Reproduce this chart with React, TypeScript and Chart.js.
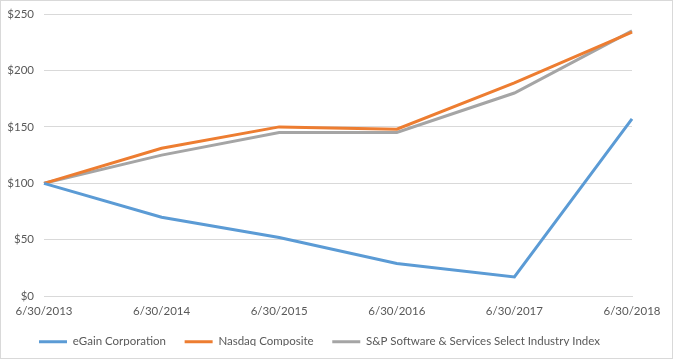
import React, { useEffect, useRef } from "react";
import { Chart, registerables } from "chart.js";

Chart.register(...registerables);

const categories = ["6/30/2013", "6/30/2014", "6/30/2015", "6/30/2016", "6/30/2017", "6/30/2018"];
const eGain = [100, 70, 52, 29, 17, 157];
const nasdaq = [100, 131, 150, 148, 189, 234];
const spSoftware = [100, 125, 145, 145, 180, 235];
const seriesNames = ["eGain Corporation", "Nasdaq Composite", "S&P Software & Services Select Industry Index"];
const yTicks = [0, 50, 100, 150, 200, 250];

const FONT = "Lato";
const TEXT = "#595959";

export default function App() {
  const ref = useRef<HTMLCanvasElement>(null);
  useEffect(() => {
    document.body.style.margin = "0";
    const ctx = ref.current!;
    const mk = (label: string, data: number[], color: string) => ({
      label,
      data,
      borderColor: color,
      backgroundColor: color,
      borderWidth: 3,
      pointRadius: 0,
      tension: 0,
      fill: false,
    });
    const chart = new Chart(ctx, {
      type: "line",
      data: {
        labels: categories,
        datasets: [
          mk(seriesNames[0], eGain, "#5B9BD5"),
          mk(seriesNames[1], nasdaq, "#ED7D31"),
          mk(seriesNames[2], spSoftware, "#A5A5A5"),
        ],
      },
      options: {
        animation: false,
        responsive: false,
        maintainAspectRatio: false,
        layout: { padding: { left: 6, right: 40, top: 13, bottom: 12 } },
        plugins: {
          tooltip: { enabled: false },
          legend: {
            position: "bottom",
            maxHeight: 20,
            labels: {
              usePointStyle: true,
              pointStyle: "line",
              pointStyleWidth: 28,
              boxHeight: 11,
              padding: 10,
              color: TEXT,
              font: { family: FONT, size: 11.5 },
              generateLabels: (c: any) => {
                const items = Chart.defaults.plugins.legend.labels.generateLabels(c);
                return items.map((it: any, i: number) => ({
                  ...it,
                  text: i < items.length - 1 ? it.text + "\u2003" : it.text,
                }));
              },
            },
          },
        },
        scales: {
          x: {
            offset: false,
            grid: { display: false, drawTicks: false },
            border: { display: true, color: "#d9d9d9" },
            ticks: {
              color: TEXT,
              font: { family: FONT, size: 11.5 },
              maxRotation: 0,
              autoSkip: false,
              padding: 8,
            },
          },
          y: {
            min: 0,
            max: 250,
            afterBuildTicks: (axis: any) => {
              axis.ticks = yTicks.map((v) => ({ value: v }));
            },
            afterFit: (axis: any) => {
              axis.width = 37;
              axis.paddingTop = 0;
            },
            grid: { color: "#d9d9d9", drawTicks: false },
            border: { display: false },
            ticks: {
              color: TEXT,
              font: { family: FONT, size: 11.5 },
              padding: 10,
              callback: (v: any) => "$" + v,
            },
          },
        },
      },
    });
    return () => chart.destroy();
  }, []);
  return (
    <div
      style={{
        position: "absolute",
        left: 0,
        top: 0,
        width: 673,
        height: 359,
        boxSizing: "border-box",
        border: "1px solid #d9d9d9",
        background: "#fff",
      }}
    >
      <canvas ref={ref} width={671} height={357} style={{ display: "block" }} />
    </div>
  );
}
